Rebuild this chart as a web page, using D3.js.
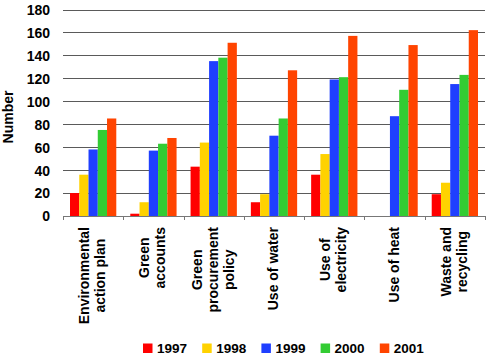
<!DOCTYPE html>
<html><head><meta charset="utf-8">
<script src="https://cdn.jsdelivr.net/npm/d3@7"></script>
<style>body{margin:0;background:#fff}svg{display:block}text{font-family:"Liberation Sans",Arial,sans-serif;font-weight:bold;fill:#000}</style>
</head><body><svg id="c" width="490" height="357"></svg>
<script>
const categories = [
  ["Environmental","action plan"],
  ["Green","accounts"],
  ["Green","procurement","policy"],
  ["Use of water"],
  ["Use of","electricity"],
  ["Use of heat"],
  ["Waste and","recycling"]
];
const years = ["1997","1998","1999","2000","2001"];
const v1997 = [20, 2, 43, 12, 36, null, 19];
const v1998 = [36, 12, 64, 19, 54, null, 29];
const v1999 = [58, 57, 135, 70, 119, 87, 115];
const v2000 = [75, 63, 138, 85, 121, 110, 123];
const v2001 = [85, 68, 151, 127, 157, 149, 162];
const yTicks = [0,20,40,60,80,100,120,140,160,180];
const colors = ["#ff0000","#ffd200","#1f3fff","#33cc33","#ff4400"];
const series = [v1997,v1998,v1999,v2000,v2001];

const svg = d3.select("#c");
const pLeft = 63, pRight = 485, pTop = 9.5, pBottom = 216;
const x = d3.scaleBand().domain(d3.range(categories.length)).range([pLeft,pRight]).padding(0);
const xi = d3.scaleBand().domain(years).range([7, x.bandwidth()-7]).padding(0);
const y = d3.scaleLinear().domain([0,180]).range([pBottom,pTop]);

// gridlines
svg.append("g").selectAll("line").data(yTicks.filter(d=>d>0)).join("line")
  .attr("x1",pLeft).attr("x2",pRight).attr("y1",d=>Math.round(y(d))+0.5).attr("y2",d=>Math.round(y(d))+0.5)
  .attr("stroke","#5a5a5a").attr("stroke-width",1);

// y labels
const yAxis = d3.axisLeft(y).tickValues(yTicks).tickSize(0).tickPadding(0);
const ya = svg.append("g").attr("transform",`translate(50,0)`).call(yAxis);
ya.select(".domain").remove();
ya.selectAll("text").attr("font-size","14px").attr("font-family",'"Liberation Sans",Arial,sans-serif').attr("font-weight","bold").attr("fill","#000").attr("dy","0.35em");

svg.append("text").attr("transform",`translate(13,117) rotate(-90)`).attr("text-anchor","middle")
  .attr("font-size","14px").text("Number");

// bars
categories.forEach((c,i)=>{
  const g = svg.append("g").attr("transform",`translate(${x(i)},0)`);
  series.forEach((s,k)=>{
    if(s[i]==null) return;
    g.append("rect").attr("x",xi(years[k])).attr("width",xi.bandwidth())
      .attr("y",y(s[i])).attr("height",pBottom-y(s[i])).attr("fill",colors[k]);
  });
});

// x axis
const xa = svg.append("g");
xa.append("line").attr("x1",pLeft).attr("x2",pRight).attr("y1",pBottom+0.5).attr("y2",pBottom+0.5).attr("stroke","#777");
const bounds = d3.range(categories.length+1).map(i=> i<categories.length ? x(i) : pRight);
xa.selectAll(".tk").data(bounds).join("line").attr("class","tk")
  .attr("x1",d=>Math.round(d)+0.5).attr("x2",d=>Math.round(d)+0.5).attr("y1",pBottom).attr("y2",pBottom+4).attr("stroke","#777");

// category labels
const L = 16;
categories.forEach((lines,i)=>{
  const cx = x(i)+x.bandwidth()/2;
  const tmp = lines.map(t=>svg.append("text").attr("font-size","14px").text(t));
  const maxW = d3.max(tmp, t=>t.node().getComputedTextLength());
  tmp.forEach(t=>t.remove());
  const cy = 227 + maxW/2;
  const n = lines.length;
  lines.forEach((t,j)=>{
    const bx = cx + (j-(n-1)/2)*L + 4;
    svg.append("text").attr("font-size","14px").attr("text-anchor","middle")
      .attr("transform",`translate(${bx},${cy}) rotate(-90)`).text(t);
  });
});

// legend
const lg = svg.append("g");
years.forEach((yr,k)=>{
  const lx = 143 + k*59.2;
  lg.append("rect").attr("x",lx).attr("y",343.5).attr("width",9.5).attr("height",9.5).attr("fill",colors[k]);
  lg.append("text").attr("x",lx+14).attr("y",353).attr("font-size","13.5px").text(yr);
});
</script></body></html>
